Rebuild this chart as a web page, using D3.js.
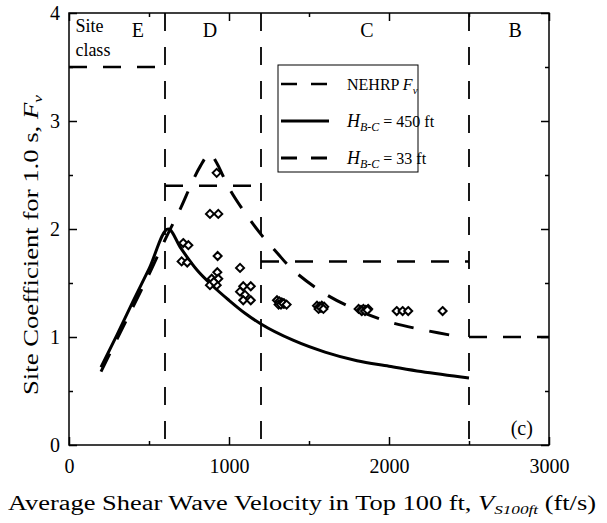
<!DOCTYPE html>
<html>
<head>
<meta charset="utf-8">
<script src="https://cdn.jsdelivr.net/npm/d3@7"></script>
<style>
  body { margin: 0; background: #fff; }
  text { font-family: "Liberation Serif", "Times New Roman", serif; fill: #000; }
</style>
</head>
<body>
<div id="chart"></div>
<script>
// site class boundaries (ft/s) and NEHRP Fv steps
const siteBounds = [600, 1200, 2500];
const siteLabels = ["E", "D", "C", "B"];
const siteLabelX = [431, 881, 1862, 2788];
const nehrpX0 = [0, 600, 1200, 2500];
const nehrpX1 = [600, 1200, 2500, 3000];
const nehrpFv = [3.5, 2.4, 1.7, 1.0];

// H_B-C = 450 ft curve
const h450V = [200, 300, 400, 500, 620, 700, 800, 900, 1000, 1100, 1200, 1400, 1600, 1800, 2000, 2200, 2500];
const h450F = [0.72, 1.02, 1.33, 1.63, 2.0, 1.82, 1.62, 1.47, 1.34, 1.22, 1.12, 0.97, 0.86, 0.78, 0.73, 0.68, 0.62];

// H_B-C = 33 ft curve
const h33V = [200, 300, 400, 500, 600, 700, 760, 820, 880, 920, 1000, 1100, 1200, 1300, 1400, 1600, 1800, 2000, 2200, 2450];
const h33F = [0.68, 0.98, 1.28, 1.58, 1.9, 2.2, 2.4, 2.58, 2.7, 2.62, 2.38, 2.15, 1.95, 1.78, 1.62, 1.4, 1.25, 1.14, 1.07, 1.0];

// data points (diamonds)
const ptV = [714, 746, 704, 739, 929, 927, 892, 933, 881, 923, 905, 923, 881, 933,
  1069, 1089, 1136, 1069, 1100, 1089, 1136,
  1300, 1315, 1330, 1345, 1310, 1325, 1340, 1360,
  1550, 1565, 1580, 1595, 1560, 1575, 1590,
  1810, 1825, 1840, 1855, 1870, 1830, 1850, 1865,
  2048, 2085, 2120, 2335];
const ptF = [1.87, 1.85, 1.70, 1.69, 1.75, 1.60, 1.54, 1.54, 1.48, 1.48, 1.51, 2.52, 2.14, 2.14,
  1.64, 1.47, 1.47, 1.42, 1.39, 1.34, 1.34,
  1.34, 1.33, 1.32, 1.31, 1.30, 1.30, 1.31, 1.30,
  1.29, 1.28, 1.29, 1.28, 1.26, 1.27, 1.26,
  1.26, 1.25, 1.26, 1.25, 1.26, 1.24, 1.24, 1.25,
  1.24, 1.24, 1.24, 1.24];

const xTicks = [0, 1000, 2000, 3000];
const yTicks = [0, 1, 2, 3, 4];

const W = 607, H = 523;
const margin = { left: 69, right: 58, top: 13, bottom: 78 };

const svg = d3.select("#chart").append("svg")
  .attr("width", W).attr("height", H);

const x = d3.scaleLinear().domain([0, 3000]).range([margin.left, W - margin.right]);
const y = d3.scaleLinear().domain([0, 4]).range([H - margin.bottom, margin.top]);

const x0 = x.range()[0], x1 = x.range()[1];
const yb = y.range()[0], yt = y.range()[1];

const DASH = "18,16";

// site class boundaries
svg.append("g").selectAll("line")
  .data(siteBounds).enter().append("line")
  .attr("x1", d => x(d)).attr("x2", d => x(d))
  .attr("y1", yt).attr("y2", yb)
  .attr("stroke", "#000").attr("stroke-width", 1.8)
  .attr("stroke-dasharray", DASH);

// NEHRP Fv steps
svg.append("g").selectAll("line")
  .data(nehrpFv).enter().append("line")
  .attr("x1", (d, i) => x(nehrpX0[i])).attr("x2", (d, i) => x(nehrpX1[i]))
  .attr("y1", d => y(d)).attr("y2", d => y(d))
  .attr("stroke", "#000").attr("stroke-width", 2.5)
  .attr("stroke-dasharray", DASH);

const line = d3.line().x(d => x(d[0])).y(d => y(d[1])).curve(d3.curveMonotoneX);

// H = 450 ft
svg.append("path")
  .datum(h450V.map((v, i) => [v, h450F[i]]))
  .attr("d", line)
  .attr("fill", "none").attr("stroke", "#000").attr("stroke-width", 3);

// H = 33 ft
svg.append("path")
  .datum(h33V.map((v, i) => [v, h33F[i]]))
  .attr("d", d3.line().x(d => x(d[0])).y(d => y(d[1])).curve(d3.curveCatmullRom))
  .attr("fill", "none").attr("stroke", "#000").attr("stroke-width", 3)
  .attr("stroke-dasharray", "20,16");

// diamonds
svg.append("g").selectAll("path")
  .data(ptV).enter().append("path")
  .attr("transform", (d, i) => `translate(${x(d)},${y(ptF[i])})`)
  .attr("d", "M0,-4L4,0L0,4L-4,0Z")
  .attr("fill", "#fff").attr("stroke", "#000").attr("stroke-width", 2);

// frame
svg.append("rect")
  .attr("x", x0).attr("y", yt)
  .attr("width", x1 - x0).attr("height", yb - yt)
  .attr("fill", "none").attr("stroke", "#000").attr("stroke-width", 1.5);

// axes with inward ticks
const xMinor = d3.range(500, 3000, 1000);
const yMinor = d3.range(0.5, 4, 1);

svg.append("g").attr("transform", `translate(0,${yb})`)
  .call(d3.axisBottom(x).tickValues(xTicks).tickSizeInner(-8).tickSizeOuter(0).tickPadding(14).tickFormat(d3.format("d")));
svg.append("g").attr("transform", `translate(0,${yt})`)
  .call(d3.axisTop(x).tickValues(xTicks).tickSizeInner(-8).tickSizeOuter(0).tickFormat(""));
svg.append("g").attr("transform", `translate(${x0},0)`)
  .call(d3.axisLeft(y).tickValues(yTicks).tickSizeInner(-8).tickSizeOuter(0).tickPadding(9).tickFormat(d3.format("d")));
svg.append("g").attr("transform", `translate(${x1},0)`)
  .call(d3.axisRight(y).tickValues(yTicks).tickSizeInner(-8).tickSizeOuter(0).tickFormat(""));

svg.append("g").attr("transform", `translate(0,${yb})`)
  .call(d3.axisBottom(x).tickValues(xMinor).tickSize(-4).tickFormat(""));
svg.append("g").attr("transform", `translate(0,${yt})`)
  .call(d3.axisTop(x).tickValues(xMinor).tickSize(-4).tickFormat(""));
svg.append("g").attr("transform", `translate(${x0},0)`)
  .call(d3.axisLeft(y).tickValues(yMinor).tickSize(-4).tickFormat(""));
svg.append("g").attr("transform", `translate(${x1},0)`)
  .call(d3.axisRight(y).tickValues(yMinor).tickSize(-4).tickFormat(""));

svg.selectAll(".domain").remove();
svg.selectAll(".tick line").attr("stroke", "#000").attr("stroke-width", 1.5);
svg.selectAll(".tick text")
  .style("font-family", '"Liberation Serif", serif')
  .style("font-size", "20px").attr("fill", "#000");

// site class labels
svg.append("text").attr("x", x(40)).attr("y", y(3.82)).style("font-size", "18px").text("Site");
svg.append("text").attr("x", x(40)).attr("y", y(3.6)).style("font-size", "18px").text("class");
svg.append("g").selectAll("text")
  .data(siteLabels).enter().append("text")
  .attr("x", (d, i) => x(siteLabelX[i])).attr("y", y(3.78))
  .attr("text-anchor", "middle").style("font-size", "20px")
  .text(d => d);

// (c) label
svg.append("text").attr("x", x(2830)).attr("y", y(0.09))
  .attr("text-anchor", "middle").style("font-size", "20px").text("(c)");

// legend
const lg = svg.append("g");
lg.append("rect").attr("x", 278).attr("y", 65).attr("width", 140).attr("height", 107)
  .attr("fill", "#fff").attr("stroke", "#000").attr("stroke-width", 1);
const legRows = [
  { dash: "16,14", w: 2.5, main: "NEHRP ", ital: "F", isub: "v" },
  { dash: null, w: 3, sub: "B-C", tail: " = 450 ft" },
  { dash: "16,14", w: 3, sub: "B-C", tail: " = 33 ft" }
];
legRows.forEach((r, i) => {
  const yy = 84 + i * 37;
  const l = lg.append("line").attr("x1", 281).attr("x2", 329).attr("y1", yy).attr("y2", yy)
    .attr("stroke", "#000").attr("stroke-width", r.w);
  if (r.dash) l.attr("stroke-dasharray", r.dash);
  const t = lg.append("text").attr("x", 347).attr("y", yy + 6).style("font-size", "16px");
  if (r.main) {
    t.append("tspan").text(r.main);
    t.append("tspan").style("font-style", "italic").text(r.ital);
    t.append("tspan").style("font-style", "italic").style("font-size", "11px").attr("dy", 4).text(r.isub);
  } else {
    t.append("tspan").style("font-style", "italic").style("font-size", "18px").text("H");
    t.append("tspan").style("font-style", "italic").style("font-size", "12px").attr("dy", 4).text(r.sub);
    t.append("tspan").attr("dy", -4).text(r.tail);
  }
});

// axis titles
const xt = svg.append("text").attr("x", 302).attr("y", 510).attr("text-anchor", "middle")
  .attr("textLength", 588).attr("lengthAdjust", "spacingAndGlyphs")
  .style("font-size", "20px");
xt.append("tspan").text("Average Shear Wave Velocity in Top 100 ft, ");
xt.append("tspan").style("font-style", "italic").text("V");
xt.append("tspan").style("font-style", "italic").style("font-size", "13px").attr("dy", 4).text("S100ft");
xt.append("tspan").attr("dy", -4).text(" (ft/s)");

const yTitle = svg.append("text")
  .attr("transform", `translate(38,${y(2) + 16}) rotate(-90)`)
  .attr("text-anchor", "middle")
  .attr("textLength", 300).attr("lengthAdjust", "spacingAndGlyphs")
  .style("font-size", "20px");
yTitle.append("tspan").text("Site Coefficient for 1.0 s, ");
yTitle.append("tspan").style("font-style", "italic").text("F");
yTitle.append("tspan").style("font-style", "italic").style("font-size", "13px").attr("dy", 4).text("v");
</script>
</body>
</html>
